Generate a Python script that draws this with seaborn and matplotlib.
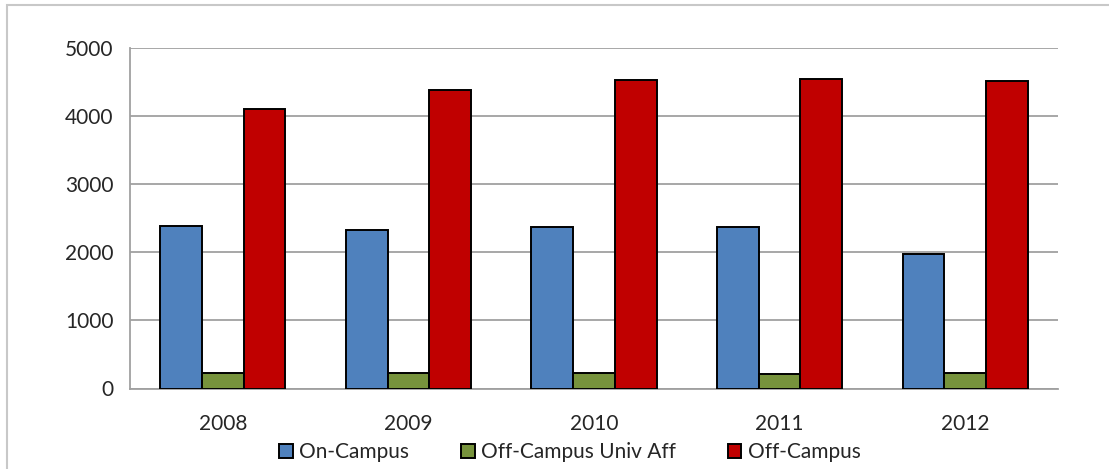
import matplotlib
matplotlib.use("Agg")
import matplotlib.pyplot as plt
import seaborn as sns
import pandas as pd
from matplotlib.patches import Rectangle
from matplotlib.ticker import FixedLocator

years = ["2008", "2009", "2010", "2011", "2012"]
series = ["On-Campus", "Off-Campus Univ Aff", "Off-Campus"]
on_campus = [2390, 2330, 2372, 2367, 1978]
off_univ_aff = [235, 225, 230, 215, 230]
off_campus = [4107, 4390, 4538, 4549, 4515]
colors = ["#4F81BD", "#77933C", "#C00000"]

rows = []
for name, vals in zip(series, [on_campus, off_univ_aff, off_campus]):
    for y, v in zip(years, vals):
        rows.append({"year": y, "series": name, "value": v})
df = pd.DataFrame(rows)

sns.set_style("white")
plt.rcParams["font.family"] = ["Lato", "DejaVu Sans"]

fig = plt.figure(figsize=(11.09, 4.69), dpi=100)
ax = fig.add_axes([130/1109, 1-388.5/469, (1058-130)/1109, (388.5-48.3)/469])

sns.barplot(data=df, x="year", y="value", hue="series", hue_order=series,
            palette=colors, saturation=1, width=0.675, edgecolor="black",
            linewidth=1.4, ax=ax, zorder=3)

ax.set_ylim(0, 5000)
ax.set_xlim(-0.5, 4.5)
ax.set_yticks([0, 1000, 2000, 3000, 4000, 5000])
ax.set_xlabel("")
ax.set_ylabel("")
grid_c = "#A0A0A0"
ax.yaxis.grid(True, color=grid_c, linewidth=1.3, zorder=0)
ax.set_axisbelow(True)
for s in ["top", "right"]:
    ax.spines[s].set_visible(False)
for s in ["left", "bottom"]:
    ax.spines[s].set_color(grid_c)
    ax.spines[s].set_linewidth(1.3)
ax.tick_params(axis="y", length=8, width=1.3, color=grid_c, labelsize=15, pad=4)
ax.tick_params(axis="x", which="major", length=0, labelsize=15, pad=18)
ax.xaxis.set_minor_locator(FixedLocator([-0.5, 0.5, 1.5, 2.5, 3.5, 4.5]))
ax.tick_params(axis="x", which="minor", length=7, width=1.3, color=grid_c, direction="out")

leg = ax.legend(loc="upper center", bbox_to_anchor=(0.474, -0.157), ncol=3, frameon=False,
                fontsize=15, handlelength=0.65, handleheight=0.65, handletextpad=0.3,
                columnspacing=2.5, borderaxespad=0, borderpad=0)
for h in leg.legend_handles:
    h.set_edgecolor("black")
    h.set_linewidth(1.4)

fig.patches.append(Rectangle((7/1109, -0.1), 1.2, 1 - 5/469 + 0.1, transform=fig.transFigure,
                             fill=False, edgecolor="#C8C8C8", linewidth=1.5))

fig.savefig("out.png", dpi=100)
